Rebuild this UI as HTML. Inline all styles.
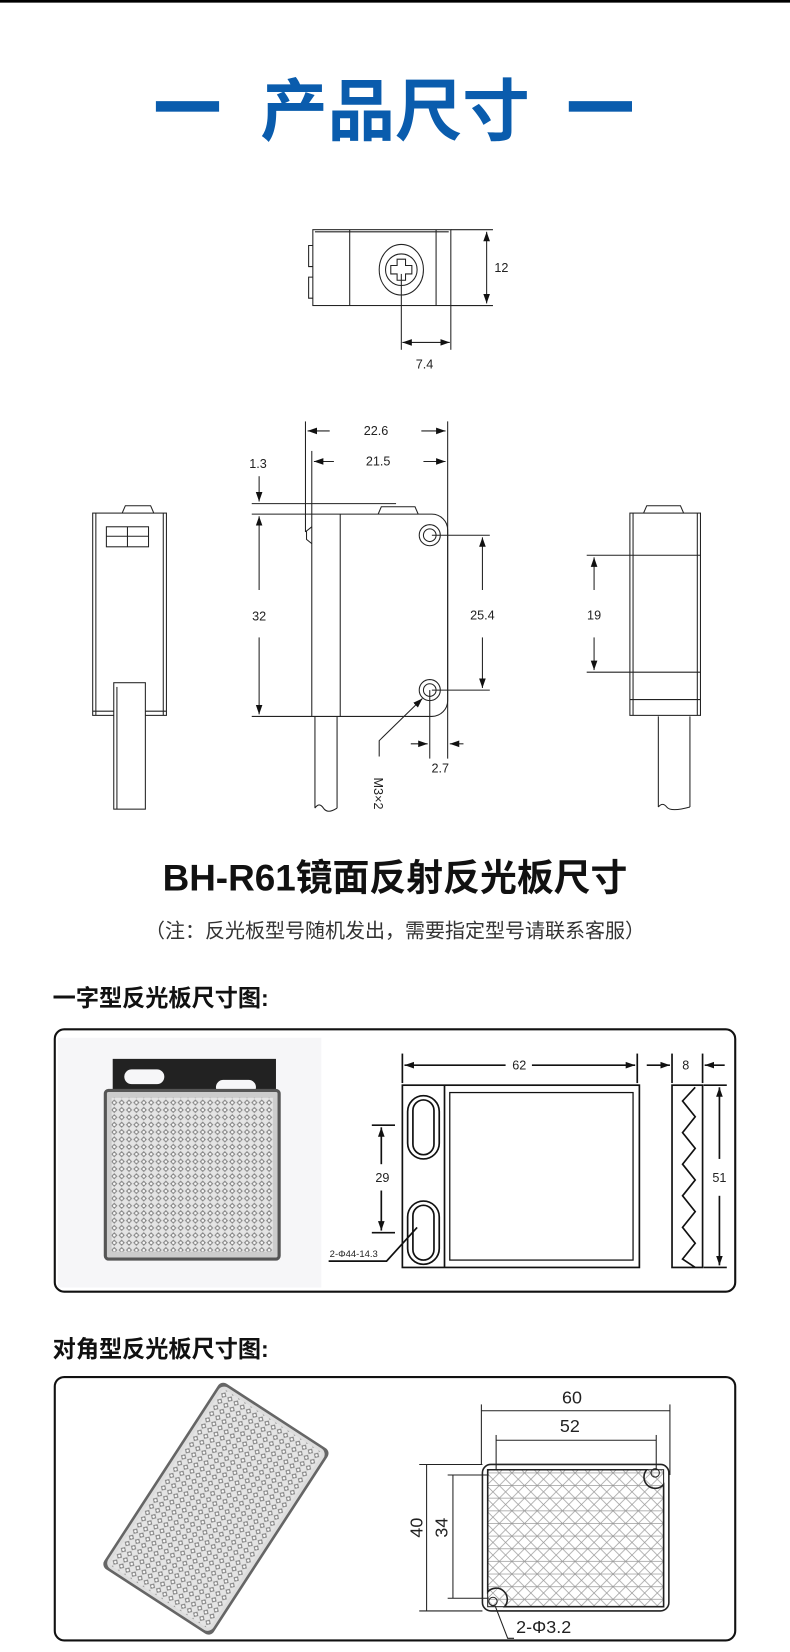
<!DOCTYPE html>
<html><head><meta charset="utf-8"><style>
html,body{margin:0;padding:0;background:#fff;}
svg{display:block;}
text{font-family:"Liberation Sans","Noto Sans CJK SC",sans-serif;}
</style></head><body>
<svg width="790" height="1652" viewBox="0 0 750 1568" preserveAspectRatio="none" xmlns="http://www.w3.org/2000/svg">
<defs>
<marker id="a" viewBox="0 0 10 10" refX="10" refY="5" markerWidth="9" markerHeight="9" orient="auto-start-reverse" markerUnits="userSpaceOnUse"><path d="M0,1.5 L10,5 L0,8.5z" fill="#111"/></marker>
<pattern id="dots" width="7" height="7" patternUnits="userSpaceOnUse"><rect width="7" height="7" fill="#e4e4e4"/><path d="M3.5,0.5 L6.5,3.5 L3.5,6.5 L0.5,3.5z" fill="#888"/><circle cx="3.5" cy="3.5" r="1.2" fill="#fafafa"/></pattern>
<pattern id="tri" width="12" height="12" patternUnits="userSpaceOnUse"><path d="M0,0 L12,12 M12,0 L0,12 M0,6 L12,6" stroke="#999" stroke-width="0.7"/></pattern>
</defs>
<rect x="0" y="0" width="750" height="2.5" fill="#000"/>
<rect x="148" y="96" width="60" height="10" fill="#0a5cad"/>
<rect x="540" y="96" width="60" height="10" fill="#0a5cad"/>
<text x="375" y="128" text-anchor="middle" font-size="64" font-weight="bold" fill="#0a5cad">产品尺寸</text>

<g stroke="#222" fill="none" stroke-width="1">
<rect x="297" y="218" width="131" height="72"/>
<line x1="332" y1="218" x2="332" y2="290"/><line x1="414" y1="218" x2="414" y2="290"/>
<line x1="299" y1="220" x2="426" y2="220"/>
<path d="M297,233 h-4 v20 h4 M297,263 h-4 v20 h4"/>
<ellipse cx="381" cy="256" rx="21" ry="24"/><circle cx="381" cy="256" r="15"/>
<path d="M377,246 h8 v6 h6 v8 h-6 v6 h-8 v-6 h-6 v-8 h6z"/>
<line x1="428" y1="218" x2="468" y2="218"/><line x1="428" y1="290" x2="468" y2="290"/>
<line x1="462" y1="220" x2="462" y2="288" marker-start="url(#a)" marker-end="url(#a)"/>
<line x1="381" y1="260" x2="381" y2="332"/><line x1="428" y1="290" x2="428" y2="332"/>
<line x1="382" y1="325" x2="427" y2="325" marker-start="url(#a)" marker-end="url(#a)"/>

<rect x="88" y="487" width="70" height="192"/><line x1="91" y1="487" x2="91" y2="679"/><line x1="155" y1="487" x2="155" y2="679"/>
<line x1="88" y1="675" x2="158" y2="675"/>
<path d="M116,487 l3,-7 h24 l3,7"/>
<rect x="101" y="500" width="40" height="19"/><line x1="121" y1="500" x2="121" y2="519"/><line x1="101" y1="509" x2="141" y2="509"/>
<rect x="108" y="648" width="30" height="120" fill="#fff"/><line x1="111" y1="652" x2="111" y2="768"/>

<path d="M296,488 H410 a15,15 0 0 1 15,15 V665 a15,15 0 0 1 -15,15 H296z"/>
<line x1="323" y1="488" x2="323" y2="680"/>
<path d="M359,488 l3,-7 h32 l3,7"/>
<path d="M296,500 l-5,4 v8 l5,4"/>
<circle cx="408" cy="508" r="10"/><circle cx="408" cy="508" r="6"/>
<circle cx="408" cy="655" r="10"/><circle cx="408" cy="655" r="6"/>
<path d="M299,680 V767 M320,680 V767 M299,767 q4,-6 8,0 q4,6 13,0"/>
<line x1="290" y1="400" x2="290" y2="505"/><line x1="296" y1="428" x2="296" y2="488"/><line x1="425" y1="400" x2="425" y2="720"/>
<line x1="292" y1="409" x2="313" y2="409" marker-start="url(#a)"/><line x1="400" y1="409" x2="423" y2="409" marker-end="url(#a)"/>
<line x1="298" y1="438" x2="317" y2="438" marker-start="url(#a)"/><line x1="402" y1="438" x2="423" y2="438" marker-end="url(#a)"/>
<line x1="239" y1="478" x2="376" y2="478"/><line x1="239" y1="488" x2="296" y2="488"/><line x1="239" y1="680" x2="296" y2="680"/>
<line x1="246" y1="452" x2="246" y2="476" marker-end="url(#a)"/>
<line x1="246" y1="560" x2="246" y2="490" marker-end="url(#a)"/><line x1="246" y1="605" x2="246" y2="678" marker-end="url(#a)"/>
<line x1="410" y1="508" x2="465" y2="508"/><line x1="410" y1="655" x2="465" y2="655"/>
<line x1="458" y1="560" x2="458" y2="510" marker-end="url(#a)"/><line x1="458" y1="605" x2="458" y2="653" marker-end="url(#a)"/>
<line x1="408" y1="655" x2="408" y2="720"/>
<line x1="390" y1="706" x2="406" y2="706" marker-end="url(#a)"/><line x1="440" y1="706" x2="427" y2="706" marker-end="url(#a)"/>
<path d="M360,718 V703 L401,663" marker-end="url(#a)"/>

<rect x="598" y="487" width="67" height="192"/><line x1="601" y1="487" x2="601" y2="679"/><line x1="662" y1="487" x2="662" y2="679"/>
<line x1="598" y1="527" x2="665" y2="527"/><line x1="598" y1="638" x2="665" y2="638"/><line x1="598" y1="664" x2="665" y2="664"/>
<path d="M611,487 l3,-7 h32 l3,7"/>
<path d="M625,680 V766 M655,680 V766 M625,766 q4,-5 8,0 t22,0"/>
<line x1="557" y1="527" x2="598" y2="527"/><line x1="557" y1="638" x2="598" y2="638"/>
<line x1="564" y1="560" x2="564" y2="529" marker-end="url(#a)"/><line x1="564" y1="605" x2="564" y2="636" marker-end="url(#a)"/>
</g>
<g font-size="12" fill="#222" text-anchor="middle">
<text x="476" y="258">12</text><text x="403" y="350">7.4</text>
<text x="357" y="413">22.6</text><text x="359" y="442">21.5</text><text x="245" y="444">1.3</text>
<text x="246" y="589">32</text><text x="458" y="588">25.4</text><text x="418" y="733">2.7</text>
<text x="564" y="588">19</text>
<text transform="translate(355,738) rotate(90)" text-anchor="start">M3×2</text>
</g>

<text x="375" y="845" text-anchor="middle" font-size="35" font-weight="bold" fill="#111">BH-R61镜面反射反光板尺寸</text>
<text x="375" y="890" text-anchor="middle" font-size="19" fill="#333">（注：反光板型号随机发出，需要指定型号请联系客服）</text>

<text x="50" y="955" font-size="22" font-weight="bold" fill="#111">一字型反光板尺寸图:</text>
<rect x="52" y="977" width="646" height="249" rx="9" fill="none" stroke="#111" stroke-width="2"/>
<rect x="55" y="985" width="250" height="237" fill="#f6f6f8"/>
<path d="M107,1005 H262 V1045 H107z" fill="#222"/>
<rect x="118" y="1015" width="38" height="14" rx="7" fill="#f6f6f8"/><rect x="205" y="1025" width="38" height="14" rx="7" fill="#f6f6f8"/>
<rect x="100" y="1035" width="165" height="160" rx="3" fill="#ccc" stroke="#555" stroke-width="3"/>
<rect x="106" y="1042" width="153" height="146" fill="url(#dots)"/>
<g stroke="#111" fill="none" stroke-width="1.6">
<rect x="382" y="1030" width="225" height="173"/><line x1="422" y1="1030" x2="422" y2="1203"/>
<rect x="427" y="1037" width="174" height="159" stroke-width="1.2"/>
<rect x="387" y="1040" width="30" height="60" rx="15"/><rect x="392" y="1044" width="20" height="52" rx="10"/>
<rect x="387" y="1140" width="30" height="60" rx="15"/><rect x="392" y="1144" width="20" height="52" rx="10"/>
<rect x="638" y="1030" width="29" height="173"/>
<path d="M660,1032 L648,1045 L660,1060 L648,1075 L660,1090 L648,1105 L660,1120 L648,1135 L660,1150 L648,1165 L660,1180 L648,1195 L660,1203"/>
<line x1="382" y1="1000" x2="382" y2="1028"/><line x1="605" y1="1000" x2="605" y2="1028"/>
<line x1="638" y1="1000" x2="638" y2="1028"/><line x1="667" y1="1000" x2="667" y2="1028"/>
<line x1="384" y1="1011" x2="480" y2="1011" marker-start="url(#a)"/><line x1="505" y1="1011" x2="603" y2="1011" marker-end="url(#a)"/>
<line x1="614" y1="1011" x2="636" y2="1011" marker-end="url(#a)"/><line x1="688" y1="1011" x2="669" y2="1011" marker-end="url(#a)"/>
<line x1="353" y1="1068" x2="375" y2="1068"/><line x1="353" y1="1170" x2="375" y2="1170"/>
<line x1="362" y1="1105" x2="362" y2="1070" marker-end="url(#a)"/><line x1="362" y1="1130" x2="362" y2="1168" marker-end="url(#a)"/>
<line x1="683" y1="1100" x2="683" y2="1032" marker-end="url(#a)"/><line x1="683" y1="1135" x2="683" y2="1201" marker-end="url(#a)"/>
<line x1="668" y1="1030" x2="690" y2="1030"/><line x1="668" y1="1203" x2="690" y2="1203"/>
<path d="M312,1197 H367 L396,1165"/>
</g>
<g font-size="12" fill="#222" text-anchor="middle">
<text x="493" y="1015">62</text><text x="651" y="1015">8</text><text x="363" y="1122">29</text><text x="683" y="1122">51</text>
<text x="313" y="1193" text-anchor="start" font-size="9">2-Φ44-14.3</text>
</g>

<text x="50" y="1288" font-size="22" font-weight="bold" fill="#111">对角型反光板尺寸图:</text>
<rect x="52" y="1307" width="646" height="250" rx="9" fill="none" stroke="#111" stroke-width="2"/>
<g transform="translate(205,1432) rotate(33)">
<rect x="-62" y="-105" width="124" height="210" rx="6" fill="#666"/>
<rect x="-58" y="-101" width="116" height="202" rx="5" fill="url(#dots)" stroke="#ddd" stroke-width="3"/>
</g>
<g stroke="#222" fill="none" stroke-width="1">
<path d="M466,1390 H627 a8,8 0 0 1 8,8 V1521 a8,8 0 0 1 -8,8 H466 a8,8 0 0 1 -8,-8 V1398 a8,8 0 0 1 8,-8z" stroke-width="1.5"/>
<rect x="463" y="1395" width="167" height="130" fill="url(#tri)"/>
<path d="M463,1395 H614 a10,10 0 0 0 16,14 V1525 H479 a10,10 0 0 0 -16,-14z" stroke-width="1.5"/>
<circle cx="622" cy="1398" r="4"/><circle cx="468" cy="1520" r="4"/>
<line x1="457" y1="1333" x2="457" y2="1390"/><line x1="636" y1="1333" x2="636" y2="1400"/>
<line x1="457" y1="1339" x2="636" y2="1339"/>
<line x1="471" y1="1362" x2="471" y2="1395"/><line x1="623" y1="1362" x2="623" y2="1395"/>
<line x1="471" y1="1367" x2="623" y2="1367"/>
<line x1="398" y1="1390" x2="458" y2="1390"/><line x1="398" y1="1529" x2="458" y2="1529"/>
<line x1="405" y1="1390" x2="405" y2="1529"/>
<line x1="425" y1="1400" x2="464" y2="1400"/><line x1="425" y1="1517" x2="464" y2="1517"/>
<line x1="430" y1="1400" x2="430" y2="1517"/>
<path d="M470,1524 L482,1555 H488"/>
</g>
<g font-size="17" fill="#222" text-anchor="middle">
<text x="543" y="1332">60</text><text x="541" y="1359">52</text>
<text transform="translate(401,1450) rotate(-90)">40</text>
<text transform="translate(425,1450) rotate(-90)">34</text>
<text x="490" y="1550" text-anchor="start">2-Φ3.2</text>
</g>
</svg>
</body></html>
